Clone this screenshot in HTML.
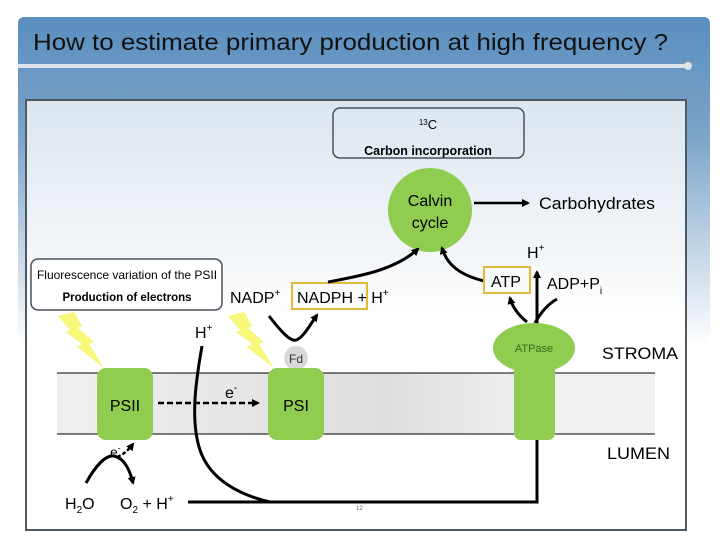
<!DOCTYPE html>
<html><head><style>
html,body{margin:0;padding:0;background:#fff;width:720px;height:540px;overflow:hidden}
svg{display:block;font-family:"Liberation Sans",Arial,sans-serif}
</style></head><body>
<svg width="720" height="540" viewBox="0 0 720 540" xmlns="http://www.w3.org/2000/svg">
<defs>
<linearGradient id="hdr" x1="0" y1="0" x2="0" y2="1">
<stop offset="0" stop-color="#5a8fc0"/><stop offset="0.35" stop-color="#7aa3c8"/><stop offset="1" stop-color="#ffffff"/>
</linearGradient>
<linearGradient id="box" x1="0" y1="0" x2="0" y2="1">
<stop offset="0" stop-color="#dbe6ef"/><stop offset="0.4" stop-color="#f6f8fa"/><stop offset="0.5" stop-color="#ffffff"/>
</linearGradient>
<linearGradient id="mem" x1="0" y1="0" x2="1" y2="0">
<stop offset="0" stop-color="#efefef"/><stop offset="0.55" stop-color="#dedede"/><stop offset="0.8" stop-color="#f0f0f0"/>
</linearGradient>
<marker id="ah" markerWidth="8" markerHeight="8" refX="6" refY="4" orient="auto" markerUnits="userSpaceOnUse"><path d="M0,0 L8,4 L0,8 z" fill="#000"/></marker>
</defs>
<rect x="18" y="17" width="692" height="330" rx="6" fill="url(#hdr)"/>
<text x="33" y="50" font-size="23" fill="#111" textLength="635" lengthAdjust="spacingAndGlyphs">How to estimate primary production at high frequency ?</text>
<line x1="18" y1="66" x2="686" y2="66" stroke="#dde4ea" stroke-width="4"/>
<circle cx="688" cy="66" r="4" fill="#dde4ea"/>
<rect x="26" y="100" width="660" height="430" fill="url(#box)" stroke="#505860" stroke-width="2"/>

<rect x="57" y="373" width="598" height="61" fill="url(#mem)"/>
<line x1="57" y1="373" x2="655" y2="373" stroke="#000" stroke-width="1"/>
<line x1="57" y1="434" x2="655" y2="434" stroke="#000" stroke-width="1"/>

<rect x="333" y="108" width="191" height="50" rx="7" fill="none" stroke="#4a535c" stroke-width="1.5"/>
<text x="428" y="129" font-size="13" text-anchor="middle"><tspan font-size="8" dy="-4">13</tspan><tspan dy="4">C</tspan></text>
<text x="428" y="155" font-size="12.5" font-weight="bold" text-anchor="middle">Carbon incorporation</text>

<circle cx="430" cy="210" r="42" fill="#8fcc4f"/>
<text x="430" y="206" font-size="16" text-anchor="middle">Calvin</text>
<text x="430" y="228" font-size="16" text-anchor="middle">cycle</text>
<line x1="474" y1="203" x2="528" y2="203" stroke="#000" stroke-width="2.5" marker-end="url(#ah)"/>
<text x="539" y="209" font-size="17" textLength="116" lengthAdjust="spacingAndGlyphs">Carbohydrates</text>

<rect x="31" y="259" width="191" height="51" rx="7" fill="#fff" stroke="#4a535c" stroke-width="1.5"/>
<text x="127" y="279" font-size="12" text-anchor="middle">Fluorescence variation of the PSII</text>
<text x="127" y="301" font-size="11.5" font-weight="bold" text-anchor="middle">Production of electrons</text>

<polygon points="58,316 74,312 82,326 78,328 94,342 89,344 104,368 77,347 82,344 66,332 70,330" fill="#f7f77a"/>
<polygon points="228,316 244,312 252,326 248,328 264,342 259,344 274,368 247,347 252,344 236,332 240,330" fill="#f7f77a"/>

<text x="230" y="303" font-size="16">NADP<tspan font-size="10" dy="-7">+</tspan></text>
<rect x="292" y="283" width="75" height="26" fill="none" stroke="#e3b83a" stroke-width="2"/>
<text x="297" y="303" font-size="16">NADPH + H<tspan font-size="10" dy="-7">+</tspan></text>
<path d="M269,316 C280,330 290,342 296,340 C303,338 310,325 317,315" fill="none" stroke="#000" stroke-width="3" marker-end="url(#ah)"/>
<path d="M328,282 C360,276 395,270 418,249" fill="none" stroke="#000" stroke-width="3" marker-end="url(#ah)"/>
<path d="M484,281 C460,275 447,265 442,248" fill="none" stroke="#000" stroke-width="3" marker-end="url(#ah)"/>

<rect x="484" y="267" width="46" height="26" fill="none" stroke="#e3b83a" stroke-width="2"/>
<text x="491" y="287" font-size="16">ATP</text>
<text x="547" y="289" font-size="16">ADP+P<tspan font-size="10" dy="5">i</tspan></text>
<text x="527" y="258" font-size="16">H<tspan font-size="10" dy="-7">+</tspan></text>
<line x1="537" y1="324" x2="537" y2="272" stroke="#000" stroke-width="3" marker-end="url(#ah)"/>
<path d="M535,323 C542,310 550,303 557,299" fill="none" stroke="#000" stroke-width="3"/>
<path d="M527,322 C518,315 512,306 510,298" fill="none" stroke="#000" stroke-width="3" marker-end="url(#ah)"/>

<ellipse cx="534" cy="348" rx="41" ry="25" fill="#8fcc4f"/>
<rect x="514" y="360" width="41" height="80" rx="7" fill="#8fcc4f"/>
<text x="534" y="352" font-size="11" fill="#3a6a1a" text-anchor="middle">ATPase</text>
<text x="602" y="359" font-size="17" textLength="76" lengthAdjust="spacingAndGlyphs">STROMA</text>
<text x="607" y="459" font-size="17" textLength="63" lengthAdjust="spacingAndGlyphs">LUMEN</text>

<rect x="97" y="368" width="56" height="72" rx="9" fill="#8fcc4f"/>
<text x="125" y="411" font-size="16" text-anchor="middle">PSII</text>
<circle cx="296" cy="358" r="12" fill="#d8d8d8"/>
<text x="296" y="363" font-size="12" fill="#333" text-anchor="middle">Fd</text>
<rect x="268" y="368" width="56" height="72" rx="9" fill="#8fcc4f"/>
<text x="296" y="411" font-size="16" text-anchor="middle">PSI</text>
<line x1="158" y1="403" x2="258" y2="403" stroke="#000" stroke-width="2.5" stroke-dasharray="6,3" marker-end="url(#ah)"/>
<text x="225" y="398" font-size="16">e<tspan font-size="10" dy="-7">-</tspan></text>

<text x="195" y="338" font-size="16">H<tspan font-size="10" dy="-7">+</tspan></text>
<path d="M202,346 C196,380 190,420 200,450 C210,480 240,495 270,502" fill="none" stroke="#000" stroke-width="3"/>
<path d="M188,502 L537,502 L537,440" fill="none" stroke="#000" stroke-width="3"/>
<text x="356" y="510" font-size="6" fill="#666">12</text>

<path d="M86,483 C96,465 106,455 114,456 C124,458 130,470 133,483" fill="none" stroke="#000" stroke-width="3" marker-end="url(#ah)"/>
<path d="M117,457 C122,455 127,452 133,444" fill="none" stroke="#000" stroke-width="2.5" stroke-dasharray="4,2" marker-end="url(#ah)"/>
<text x="110" y="457" font-size="14">e<tspan font-size="9" dy="-6">-</tspan></text>
<text x="65" y="509" font-size="16">H<tspan font-size="10" dy="4">2</tspan><tspan dy="-4">O</tspan></text>
<text x="120" y="509" font-size="16">O<tspan font-size="10" dy="4">2</tspan><tspan dy="-4"> + H</tspan><tspan font-size="10" dy="-7">+</tspan></text>
</svg>
</body></html>
